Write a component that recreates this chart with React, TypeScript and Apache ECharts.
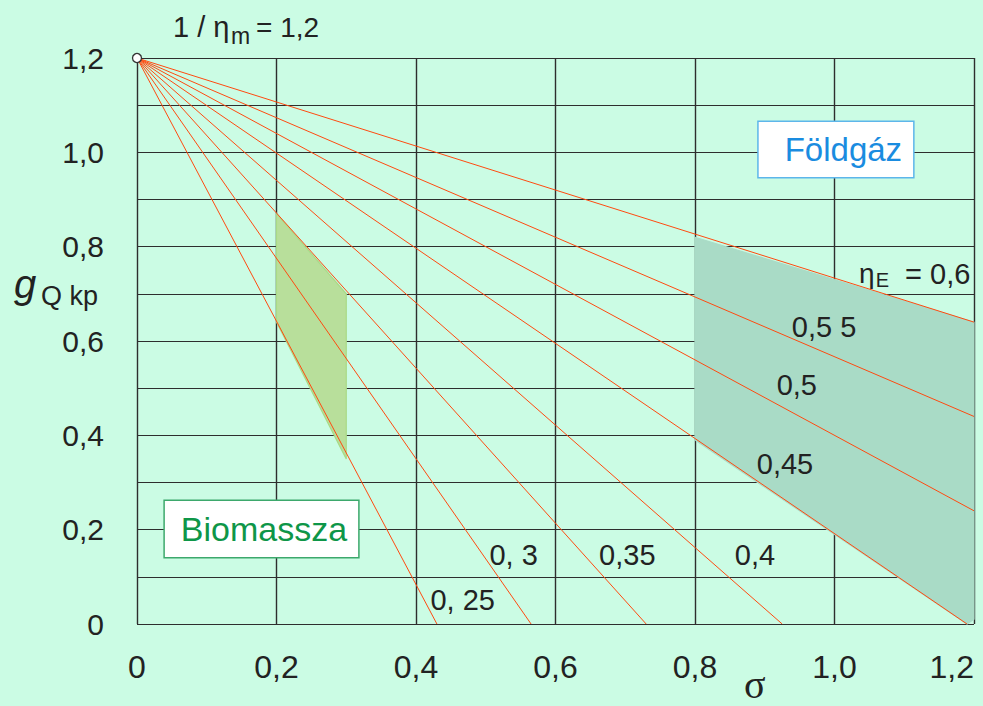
import React, { useEffect, useRef } from "react";
import * as echarts from "echarts";

// ---- axes ----
const X_MIN = 0;
const X_MAX = 1.2;
const X_STEP = 0.2;
const Y_MIN = 0;
const Y_MAX = 1.2;
const Y_STEP = 0.1;

// ---- eta_E curves: all start at (0, 1/eta_m = 1.2) ----
const etaValues = ["0,25", "0,3", "0,35", "0,4", "0,45", "0,5", "0,55", "0,6"];
const lineOrigin = [0, 1.2];
const lineEndSigma = [0.43, 0.565, 0.73, 0.925, 1.19, 1.2, 1.2, 1.2];
const lineEndG = [0, 0, 0, 0, 0, 0.24, 0.44, 0.64];

// ---- shaded regions ----
const biomassPolygon = [
  [0.2, 0.87],
  [0.3, 0.7],
  [0.3, 0.35],
  [0.2, 0.64],
];
const gasPolygon = [
  [0.8, 0.82],
  [1.2, 0.64],
  [1.2, 0.01],
  [1.19, 0],
  [0.8, 0.39],
];

// ---- curve labels ----
const curveLabelTexts = ["0, 25", "0, 3", "0,35", "0,4", "0,45", "0,5", "0,5 5"];
const curveLabelSigma = [0.467, 0.54, 0.703, 0.886, 0.929, 0.946, 0.985];
const curveLabelG = [0.051, 0.146, 0.146, 0.146, 0.339, 0.507, 0.63];
const etaELabelPos = [1.115, 0.74];

// ---- boxed labels ----
const gasBoxText = "Földgáz";
const gasBoxPos = [1.002, 1.006];
const bioBoxText = "Biomassza";
const bioBoxPos = [0.1785, 0.2014];

const BG = "#CBFCE4";
const GRID = "#2e2e2e";
const RED = "#FF4A10";
const FONT = "Liberation Sans, Arial, sans-serif";

function fmt(v: number): string {
  const r = Math.round(v * 10);
  if (r === 0) return "0";
  return (r / 10).toFixed(1).replace(".", ",");
}

const labelHolder = {
  type: "scatter",
  z: 6,
  clip: false,
  silent: true,
  symbol: "circle",
  symbolSize: 1,
  itemStyle: { color: "rgba(0,0,0,0)", opacity: 1 },
};

export default function App() {
  const ref = useRef<HTMLDivElement>(null);

  useEffect(() => {
    document.body.style.margin = "0";
    if (!ref.current) return;
    const chart = echarts.init(ref.current, undefined, { renderer: "svg" });

    const polySeries = (poly: number[][], fill: string, stroke: string) => ({
      type: "custom",
      z: 1,
      silent: true,
      clip: false,
      data: poly,
      encode: { x: 0, y: 1 },
      renderItem: (params: any, api: any) => {
        if (params.dataIndex !== 0) return null;
        const pts = poly.map((p) => api.coord(p));
        return {
          type: "polygon",
          shape: { points: pts },
          style: { fill, stroke, lineWidth: 1.2 },
        };
      },
    });

    const lineSeries = etaValues.map((eta, i) => ({
      type: "line",
      name: "ηE = " + eta,
      z: 3,
      silent: true,
      showSymbol: false,
      symbol: "none",
      lineStyle: { color: RED, width: 1 },
      data: [lineOrigin, [lineEndSigma[i], lineEndG[i]]],
    }));

    const option: any = {
      animation: false,
      backgroundColor: BG,
      grid: { left: 137, top: 58, right: 9, bottom: 82 },
      xAxis: {
        type: "value",
        min: X_MIN,
        max: X_MAX,
        interval: X_STEP,
        axisLine: { show: false },
        axisTick: { show: false },
        splitLine: { show: true, lineStyle: { color: GRID, width: 1.4 } },
        axisLabel: {
          margin: 27,
          fontSize: 32,
          color: "#222",
          fontFamily: FONT,
          formatter: fmt,
          alignMaxLabel: "right",
        },
      },
      yAxis: {
        type: "value",
        min: Y_MIN,
        max: Y_MAX,
        interval: Y_STEP,
        axisLine: { show: false },
        axisTick: { show: false },
        splitLine: { show: true, lineStyle: { color: GRID, width: 1.2 } },
        axisLabel: {
          margin: 33,
          fontSize: 30,
          color: "#222",
          fontFamily: FONT,
          formatter: (v: number) =>
            Math.round(v * 10) % 2 === 0 ? fmt(v) : "",
        },
      },
      series: [
        polySeries(biomassPolygon, "#B8DF9B", "#A9DA86"),
        polySeries(gasPolygon, "#A9DBC6", "#A9DBC6"),
        ...lineSeries,
        {
          type: "scatter",
          z: 10,
          clip: false,
          silent: true,
          symbolSize: 9,
          itemStyle: { color: "#fff", borderColor: "#333", borderWidth: 1.3, opacity: 1 },
          data: [lineOrigin],
        },
        {
          ...labelHolder,
          label: {
            show: true,
            position: "inside",
            formatter: "{b}",
            fontSize: 29,
            color: "#222",
            fontFamily: FONT,
          },
          data: curveLabelTexts.map((t, i) => ({
            name: t,
            value: [curveLabelSigma[i], curveLabelG[i]],
          })),
        },
        {
          ...labelHolder,
          label: {
            show: true,
            position: "inside",
            formatter: "{e|η}{s|E}{n| = 0,6}",
            color: "#222",
            fontFamily: FONT,
            rich: {
              e: { fontSize: 28, color: "#222", fontFamily: FONT, verticalAlign: "top" },
              s: {
                fontSize: 20,
                color: "#222",
                fontFamily: FONT,
                verticalAlign: "top",
                padding: [11, 8, 0, 1],
              },
              n: { fontSize: 29, color: "#222", fontFamily: FONT, verticalAlign: "top" },
            },
          },
          data: [{ name: "ηE = 0,6", value: etaELabelPos }],
        },
        {
          ...labelHolder,
          z: 7,
          label: {
            show: true,
            position: "inside",
            formatter: "{b}",
            fontSize: 33,
            lineHeight: 35,
            color: "#1A8CE0",
            fontFamily: FONT,
            backgroundColor: "#fff",
            borderColor: "#5DB6EA",
            borderWidth: 1.5,
            padding: [10, 11, 10, 26],
          },
          data: [{ name: gasBoxText, value: gasBoxPos }],
        },
        {
          ...labelHolder,
          z: 7,
          label: {
            show: true,
            position: "inside",
            formatter: "{b}",
            fontSize: 34,
            lineHeight: 36,
            color: "#0E9648",
            fontFamily: FONT,
            backgroundColor: "#fff",
            borderColor: "#3DA86C",
            borderWidth: 1.5,
            padding: [10, 11, 10, 16],
          },
          data: [{ name: bioBoxText, value: bioBoxPos }],
        },
      ],
      graphic: [
        {
          type: "text",
          x: 173,
          y: 27,
          style: {
            text: "1 / η",
            fill: "#222",
            fontSize: 29,
            fontFamily: FONT,
            align: "left",
            verticalAlign: "middle",
            textAlign: "left",
            textVerticalAlign: "middle",
          },
        },
        {
          type: "text",
          x: 231,
          y: 36,
          style: {
            text: "m",
            fill: "#222",
            fontSize: 23,
            fontFamily: FONT,
            align: "left",
            verticalAlign: "middle",
            textAlign: "left",
            textVerticalAlign: "middle",
          },
        },
        {
          type: "text",
          x: 256,
          y: 27,
          style: {
            text: "= 1,2",
            fill: "#222",
            fontSize: 28,
            fontFamily: FONT,
            align: "left",
            verticalAlign: "middle",
            textAlign: "left",
            textVerticalAlign: "middle",
          },
        },
        {
          type: "text",
          x: 14,
          y: 284,
          style: {
            text: "g",
            fill: "#222",
            fontSize: 40,
            fontStyle: "italic",
            fontFamily: FONT,
            align: "left",
            verticalAlign: "middle",
            textAlign: "left",
            textVerticalAlign: "middle",
          },
        },
        {
          type: "text",
          x: 41,
          y: 296,
          style: {
            text: "Q kp",
            fill: "#222",
            fontSize: 27,
            fontFamily: FONT,
            align: "left",
            verticalAlign: "middle",
            textAlign: "left",
            textVerticalAlign: "middle",
          },
        },
        {
          type: "text",
          x: 744,
          y: 684,
          style: {
            text: "σ",
            fill: "#222",
            fontSize: 40,
            fontFamily: "Liberation Serif, Times New Roman, serif",
            align: "left",
            verticalAlign: "middle",
            textAlign: "left",
            textVerticalAlign: "middle",
          },
        },
      ],
    };

    chart.setOption(option);
    return () => chart.dispose();
  }, []);

  return (
    <div
      ref={ref}
      style={{ width: 983, height: 706, background: BG, position: "relative" }}
    />
  );
}
